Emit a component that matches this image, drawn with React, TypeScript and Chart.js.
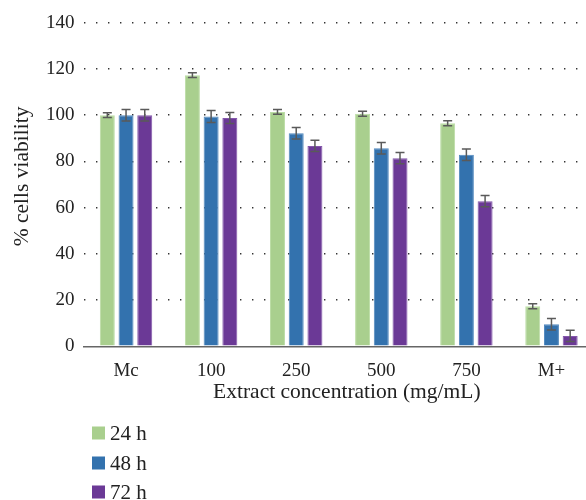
import React, { useEffect, useRef } from "react";
import { Chart, registerables } from "chart.js";

Chart.register(...registerables);

const categories = ["Mc", "100", "250", "500", "750", "M+"];
const seriesLabels = ["24 h", "48 h", "72 h"];
const values24 = [100, 117.3, 101.4, 100.6, 96.5, 17.3];
const values48 = [100, 99.4, 92.2, 85.7, 82.9, 9.5];
const values72 = [100, 98.8, 86.7, 81.4, 62.8, 4.5];
const errors24 = [1, 1, 1, 1.1, 1.1, 1.1];
const errors48 = [2.5, 2.6, 2.5, 2.5, 2.5, 2.5];
const errors72 = [2.5, 2.4, 2.4, 2.4, 2.4, 2.4];
const yTicks = [0, 20, 40, 60, 80, 100, 120, 140];

const colors = ["#A9CF8E", "#3372AE", "#6B3996"];
const edgeColors = ["#BCDDA6", "#5289BE", "#8457AB"];
const FONT = "'Liberation Serif', 'Times New Roman', serif";

const errorBarPlugin = {
  id: "errorBars",
  afterDatasetsDraw(chart: any) {
    const ctx = chart.ctx;
    const yScale = chart.scales.y;
    ctx.save();
    ctx.strokeStyle = "#5a5a5a";
    ctx.lineWidth = 1.5;
    chart.data.datasets.forEach((ds: any, i: number) => {
      const meta = chart.getDatasetMeta(i);
      meta.data.forEach((bar: any, j: number) => {
        const v = ds.data[j];
        const e = ds.errors[j];
        const x = bar.x;
        const yHi = yScale.getPixelForValue(v + e);
        const yLo = yScale.getPixelForValue(v - e);
        const cap = 4.5;
        ctx.beginPath();
        ctx.moveTo(x, yHi);
        ctx.lineTo(x, yLo);
        ctx.moveTo(x - cap, yHi);
        ctx.lineTo(x + cap, yHi);
        ctx.moveTo(x - cap, yLo);
        ctx.lineTo(x + cap, yLo);
        ctx.stroke();
      });
    });
    ctx.restore();
  },
};

const legendPlugin = {
  id: "vertLegend",
  afterDraw(chart: any) {
    const ctx = chart.ctx;
    ctx.save();
    ctx.font = `21px ${FONT}`;
    ctx.textBaseline = "middle";
    const x0 = 92;
    const ys = [433, 463, 492];
    chart.data.datasets.forEach((ds: any, i: number) => {
      const y = ys[i];
      ctx.fillStyle = ds.backgroundColor;
      ctx.fillRect(x0, y - 6.5, 13, 13);
      ctx.fillStyle = "#222";
      ctx.fillText(ds.label, x0 + 18, y + 1);
    });
    ctx.restore();
  },
};

export default function App() {
  const ref = useRef<HTMLCanvasElement>(null);
  useEffect(() => {
    if (!ref.current) return;
    const allValues = [values24, values48, values72];
    const allErrors = [errors24, errors48, errors72];
    const chart = new Chart(ref.current, {
      type: "bar",
      data: {
        labels: categories,
        datasets: seriesLabels.map((label, i) => ({
          label,
          data: allValues[i],
          errors: allErrors[i],
          backgroundColor: colors[i],
          borderColor: edgeColors[i],
          borderWidth: 1,
          categoryPercentage: 0.66,
          barPercentage: 0.8,
        })) as any,
      },
      options: {
        responsive: false,
        animation: false,
        devicePixelRatio: 1,
        layout: { padding: { left: 0, right: 6, top: 22.7, bottom: 93.7 } },
        plugins: {
          legend: { display: false },
          tooltip: { enabled: false },
        },
        scales: {
          x: {
            grid: { display: false },
            border: { display: true, color: "#666", width: 1.5 },
            ticks: { color: "#222", font: { family: FONT, size: 19 }, padding: 5 },
            title: {
              display: true,
              text: "   Extract concentration (mg/mL)",
              color: "#222",
              font: { family: FONT, size: 21.5 },
              padding: { top: 0, bottom: 1 },
            },
            afterFit: (s: any) => {
              s.height = 60;
            },
          },
          y: {
            min: 0,
            max: 140,
            afterBuildTicks: (s: any) => {
              s.ticks = yTicks.map((v) => ({ value: v }));
            },
            grid: {
              drawTicks: false,
              color: (c: any) => (c.tick && c.tick.value === 0 ? "rgba(0,0,0,0)" : "#333"),
              lineWidth: 1.4,
            },
            border: { display: false, dash: [1.4, 10.6] },
            ticks: { color: "#222", font: { family: FONT, size: 19 }, padding: 9 },
            title: {
              display: true,
              text: "   % cells viability",
              color: "#222",
              font: { family: FONT, size: 21.5 },
              padding: { top: 9, bottom: 0 },
            },
            afterFit: (s: any) => {
              s.width = 83.5;
            },
          },
        },
      },
      plugins: [errorBarPlugin, legendPlugin],
    } as any);
    return () => chart.destroy();
  }, []);
  return (
    <div style={{ position: "absolute", left: 0, top: 0, width: 586, height: 500, overflow: "hidden", background: "#fff" }}>
      <canvas ref={ref} width={600} height={500} style={{ display: "block" }} />
    </div>
  );
}
